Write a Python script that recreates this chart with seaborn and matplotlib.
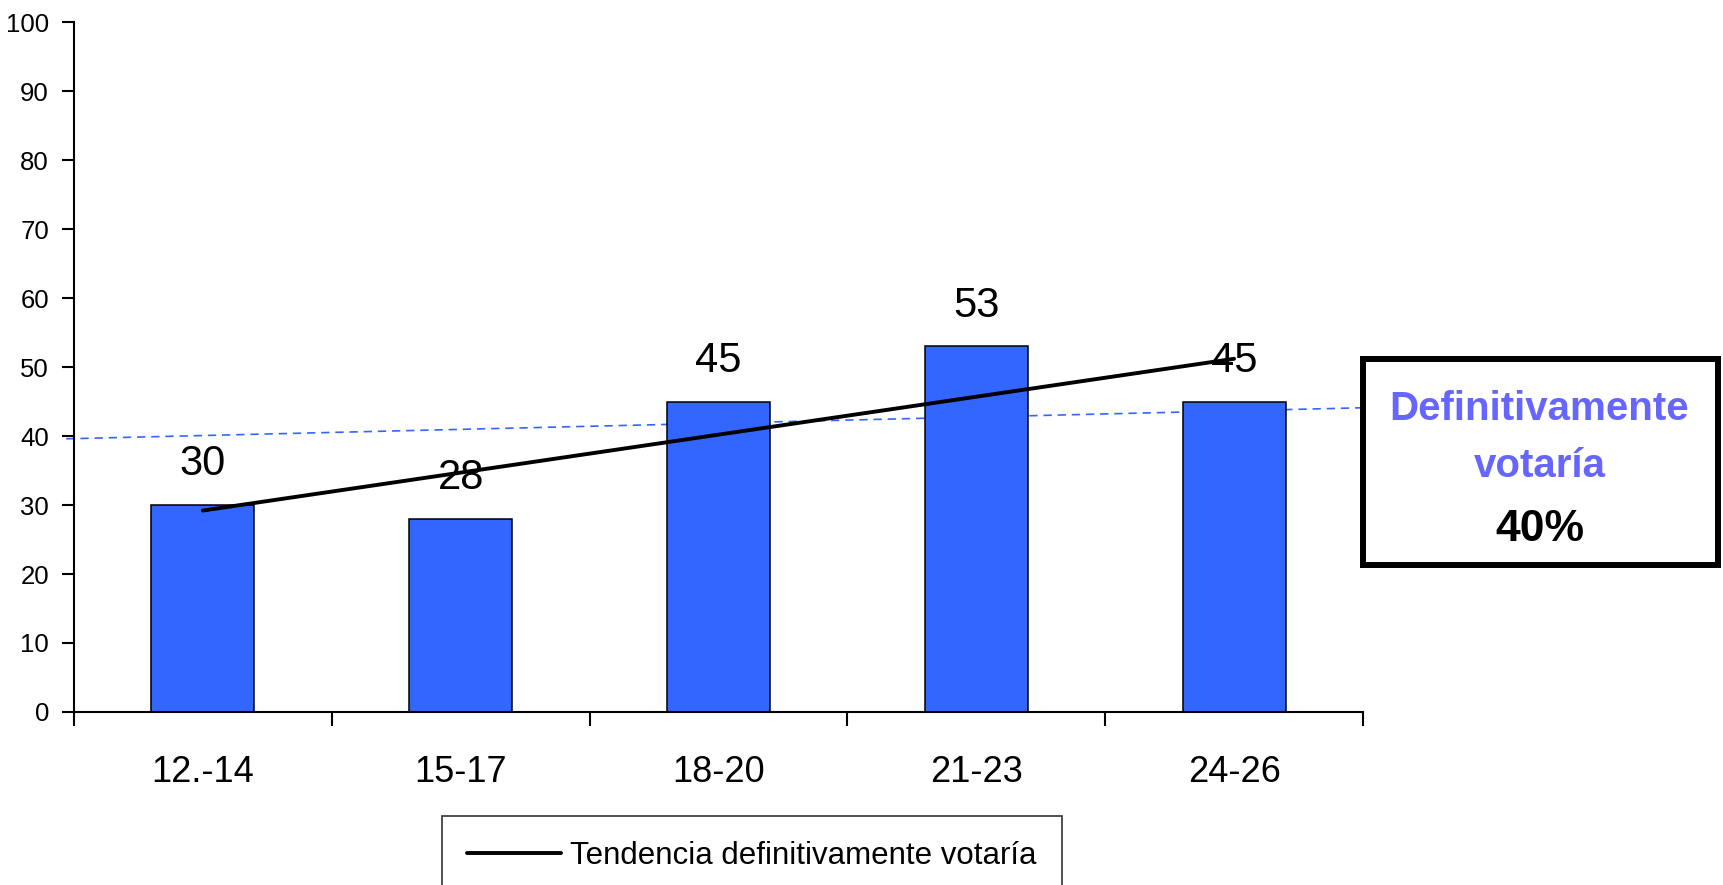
import numpy as np
import pandas as pd
import matplotlib
matplotlib.use("Agg")
import matplotlib.pyplot as plt
from matplotlib.patches import Rectangle
import seaborn as sns

# datos
grupos = ["12.-14", "15-17", "18-20", "21-23", "24-26"]
definitivamente = [30, 28, 45, 53, 45]
etiqueta_tendencia = "Tendencia definitivamente votaría"
caja_titulo = ["Definitivamente", "votaría"]
caja_valor = "40%"
ref_x = [-0.53, 4.5]
ref_y = [39.6, 44.1]

sns.set_style("white")
plt.rcParams['font.family'] = ['Liberation Sans Narrow', 'Liberation Sans', 'DejaVu Sans']
plt.rcParams['text.color'] = 'black'
plt.rcParams['xtick.color'] = 'black'
plt.rcParams['ytick.color'] = 'black'

df = pd.DataFrame({"grupo": grupos, "valor": definitivamente})
# linea de tendencia (ajuste lineal como Excel)
pos = np.arange(len(grupos))
coef = np.polyfit(pos, df["valor"], 1)
df["tendencia"] = np.polyval(coef, pos)

fig = plt.figure(figsize=(17.24, 8.85), dpi=100)
ax = fig.add_axes([0.0429, 0.1955, 0.7477, 0.7795])

sns.barplot(data=df, x="grupo", y="valor", color="#3366FF", saturation=1,
            width=0.4, edgecolor="black", linewidth=1.1, ax=ax)
ax.bar_label(ax.containers[0], fontsize=30, padding=15)

sns.lineplot(data=df, x="grupo", y="tendencia", color="black", linewidth=2.8,
             label=etiqueta_tendencia, ax=ax)

ax.plot(ref_x, ref_y, color="#3366FF", linewidth=1.2, dashes=(5, 3.5), clip_on=False, zorder=0)

ax.set_xlim(-0.5, 4.5)
ax.set_ylim(0, 100)
ax.set_yticks(range(0, 101, 10))
ax.set_xticks(np.arange(-0.5, 5, 1))
ax.set_xticklabels([])
ax.set_xticks(pos, minor=True)
ax.set_xticklabels(grupos, minor=True)
ax.tick_params(axis="x", which="major", direction="out", length=10, width=1.5, bottom=True)
ax.tick_params(axis="x", which="minor", length=0, labelsize=26, pad=31)
ax.tick_params(axis="y", direction="out", length=9, width=1.5, labelsize=18.5, pad=9, left=True)
ax.set_xlabel("")
ax.set_ylabel("")
sns.despine(ax=ax)
for s in ["left", "bottom"]:
    ax.spines[s].set_color("black")
    ax.spines[s].set_linewidth(1.5)

leg = ax.legend(loc="upper left", bbox_to_anchor=(442 / 1724, 1 - 816 / 885),
                bbox_transform=fig.transFigure, fontsize=22.5, frameon=True,
                fancybox=False, borderpad=0.8, handlelength=3.0, handletextpad=0.3,
                borderaxespad=0)
leg.get_frame().set_edgecolor("black")
leg.get_frame().set_linewidth(1.2)
for t in leg.get_texts():
    t.set_color("black")

# caja de texto
fig.patches.append(Rectangle((0.7906, 0.3616), 0.2059, 0.2328, transform=fig.transFigure,
                             fill=False, edgecolor="black", linewidth=4.3))
fig.text(0.893, 0.5254, caja_titulo[0], color="#6666FF", fontsize=29,
         fontweight="bold", ha="center", va="baseline")
fig.text(0.893, 0.461, caja_titulo[1], color="#6666FF", fontsize=29,
         fontweight="bold", ha="center", va="baseline")
fig.text(0.893, 0.3887, caja_valor, color="black", fontsize=32,
         fontweight="bold", ha="center", va="baseline")

fig.savefig("out.png", dpi=100)
